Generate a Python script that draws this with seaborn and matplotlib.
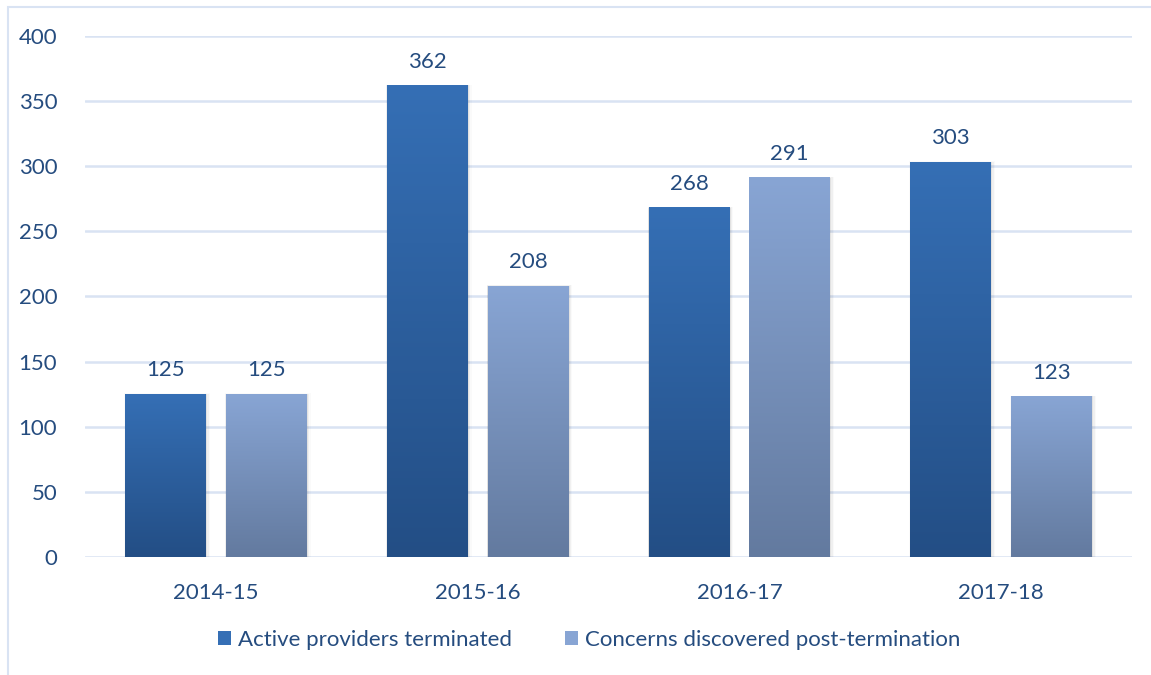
import numpy as np
import pandas as pd
import seaborn as sns
import matplotlib.pyplot as plt
from matplotlib.colors import LinearSegmentedColormap
from matplotlib.patches import Rectangle, Patch

# values
years = ["2014-15", "2015-16", "2016-17", "2017-18"]
active_terminated = [125, 362, 268, 303]
concerns_post = [125, 208, 291, 123]
series_names = ["Active providers terminated", "Concerns discovered post-termination"]

df = pd.DataFrame({
    "year": years * 2,
    "count": active_terminated + concerns_post,
    "series": [series_names[0]] * 4 + [series_names[1]] * 4,
})

text_col = "#254C7F"
grid_col = "#D9E3F3"
# top / bottom colours of the gradient fill per series
grads = {
    series_names[0]: ("#356FB5", "#234E85"),
    series_names[1]: ("#88A5D4", "#637A9F"),
}

sns.set_theme(style="white")
plt.rcParams["font.family"] = ["Lato", "DejaVu Sans"]

fig = plt.figure(figsize=(11.51, 6.75), dpi=100)
ax = fig.add_axes([85 / 1151, 1 - 557 / 675, (1132 - 85) / 1151, (557 - 36) / 675])

# outer chart frame
fig.patches.append(Rectangle((8 / 1151, -0.1), 1.2, 1 - 7 / 675 + 0.1, transform=fig.transFigure,
                             fill=False, edgecolor=grid_col, linewidth=1.5))

sns.barplot(data=df, x="year", y="count", hue="series", width=0.77, gap=0.2,
            palette=[grads[s][0] for s in series_names], legend=False, ax=ax, zorder=3)

# swap the flat fill for a vertical gradient
for container, name in zip(ax.containers, series_names):
    cmap = LinearSegmentedColormap.from_list(name, [grads[name][1], grads[name][0]])
    grad = np.linspace(0, 1, 256).reshape(-1, 1)
    for bar in container:
        x0, w, h = bar.get_x(), bar.get_width(), bar.get_height()
        # soft shadow
        for k, a in enumerate([0.06, 0.04, 0.02]):
            d = 0.004 * (k + 1)
            ax.add_patch(Rectangle((x0 - d * 0.3, -1), w + d * 1.6, h + 1 + d * 60,
                                   facecolor="black", alpha=a, edgecolor="none", zorder=2))
        ax.imshow(grad, extent=(x0, x0 + w, 0, h), origin="lower", aspect="auto",
                  cmap=cmap, zorder=4)
        bar.set_alpha(0)
    ax.bar_label(container, padding=10, fontsize=16, color=text_col)

ax.set_ylim(0, 400)
ax.set_xlim(-0.5, 3.5)
ax.set_yticks(range(0, 401, 50))

ax.yaxis.grid(True, color=grid_col, linewidth=1.8)
ax.set_axisbelow(True)
for s in ax.spines.values():
    s.set_visible(False)
ax.tick_params(axis="both", length=0, labelsize=16, labelcolor=text_col)
ax.tick_params(axis="y", pad=20)
ax.tick_params(axis="x", pad=19)
ax.set_xlabel("")
ax.set_ylabel("")

handles = [Patch(facecolor=grads[s][0], edgecolor="none") for s in series_names]
fig.legend(handles, series_names, loc="center", bbox_to_anchor=(589 / 1151, 1 - 640 / 675),
           ncol=2, frameon=False, fontsize=16, labelcolor=text_col,
           handlelength=0.6, handleheight=0.6, handletextpad=0.3, columnspacing=2.4)

fig.savefig("out.png", dpi=100)
